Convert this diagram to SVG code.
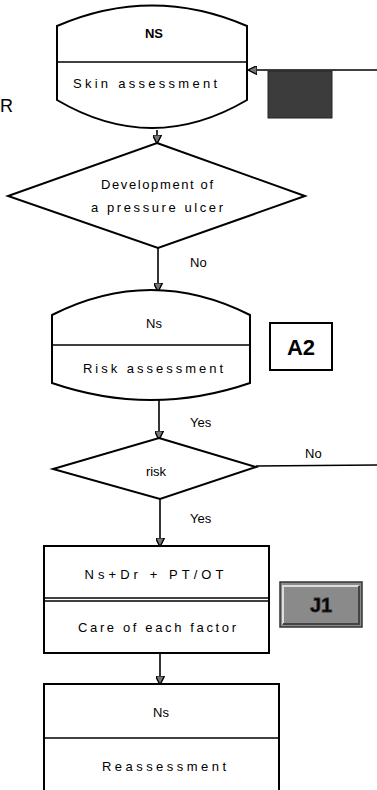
<svg xmlns="http://www.w3.org/2000/svg" width="377" height="790" viewBox="0 0 377 790">
<style>
.s{fill:#fff;stroke:#000;stroke-width:2}
.l{fill:none;stroke:#000;stroke-width:1.6}
.t{font-family:"Liberation Sans",Arial,sans-serif;font-size:13px;fill:#000;text-anchor:middle}
.tl{font-family:"Liberation Sans",Arial,sans-serif;font-size:13px;fill:#000}
</style>
<defs>
<marker id="ah" viewBox="0 0 10 10" refX="9" refY="5" markerWidth="9" markerHeight="9" orient="auto" markerUnits="userSpaceOnUse">
<path d="M0,0 L10,5 L0,10 Z" fill="#777" stroke="#000" stroke-width="1.5"/>
</marker>
</defs>
<rect width="377" height="790" fill="#fff"/>
<text x="0" y="112" style="font-family:'Liberation Sans',Arial,sans-serif;font-size:18px" fill="#000">R</text>
<g id="connectors">
<line class="l" x1="377" y1="70" x2="249" y2="70" marker-end="url(#ah)"/>
<line class="l" x1="157" y1="130" x2="157" y2="143" marker-end="url(#ah)"/>
<line class="l" x1="158" y1="248" x2="158" y2="291" marker-end="url(#ah)"/>
<line class="l" x1="159" y1="400" x2="159" y2="439" marker-end="url(#ah)"/>
<line class="l" x1="256" y1="466" x2="377" y2="465"/>
<line class="l" x1="160" y1="499" x2="160" y2="546" marker-end="url(#ah)"/>
<line class="l" x1="160" y1="653" x2="160" y2="684" marker-end="url(#ah)"/>
<text class="tl" x="190" y="267">No</text>
<text class="tl" x="190" y="427">Yes</text>
<text class="tl" x="305" y="458">No</text>
<text class="tl" x="190" y="523">Yes</text>
</g>
<g id="n1">
<path class="s" d="M57,26 Q152,-15 247,26 L247,100 Q152,156 57,100 Z"/>
<line class="l" x1="57" y1="62" x2="247" y2="62"/>
<text class="t" x="154" y="38" font-weight="bold">NS</text>
<text class="t" x="145" y="88" textLength="144" lengthAdjust="spacing">Skin assessment</text>
</g>
<g id="darkbox">
<rect x="268" y="71" width="64" height="47" fill="#3c3c3c" stroke="#222" stroke-width="1"/>
</g>
<g id="d1">
<path class="s" d="M157,143 L305,196 L158,248 L8,196 Z"/>
<text class="t" x="157" y="189" textLength="112" lengthAdjust="spacing">Development of</text>
<text class="t" x="157" y="212" textLength="132" lengthAdjust="spacing">a pressure ulcer</text>
</g>
<g id="n2">
<path class="s" d="M52,315 Q151,265 250,315 L250,383 Q151,417 52,383 Z"/>
<line class="l" x1="52" y1="345" x2="250" y2="345"/>
<text class="t" x="154" y="328">Ns</text>
<text class="t" x="153" y="373" textLength="140" lengthAdjust="spacing">Risk assessment</text>
</g>
<g id="a2">
<rect x="270" y="323" width="62" height="47" fill="#fff" stroke="#000" stroke-width="2"/>
<text class="t" x="301" y="355" style="font-size:22px;font-weight:bold">A2</text>
</g>
<g id="d2">
<path class="s" d="M159,438 L256,467 L160,499 L53,469 Z"/>
<text class="t" x="156" y="476">risk</text>
</g>
<g id="n3">
<rect class="s" x="44" y="546" width="225" height="107"/>
<line class="l" x1="44" y1="598" x2="269" y2="598"/>
<line class="l" x1="44" y1="601" x2="269" y2="601"/>
<text class="t" x="154" y="579" textLength="139" lengthAdjust="spacing">Ns+Dr + PT/OT</text>
<text class="t" x="157" y="632" textLength="158" lengthAdjust="spacing">Care of each factor</text>
</g>
<g id="j1">
<rect x="280" y="582" width="82" height="45" fill="#8a8a8a" stroke="#333" stroke-width="1.5"/>
<path d="M283,624 L283,586 L359,586" fill="none" stroke="#ddd" stroke-width="2"/>
<path d="M283,624 L359,624 L359,586" fill="none" stroke="#444" stroke-width="2"/>
<text class="t" x="321" y="612" style="font-size:20px;font-weight:bold" fill="#eee" stroke="#333" stroke-width="0.8">J1</text>
</g>
<g id="n4">
<rect class="s" x="44" y="684" width="235" height="120"/>
<line class="l" x1="44" y1="738" x2="279" y2="738"/>
<text class="t" x="161" y="717">Ns</text>
<text class="t" x="164" y="771" textLength="124" lengthAdjust="spacing">Reassessment</text>
</g>
</svg>
